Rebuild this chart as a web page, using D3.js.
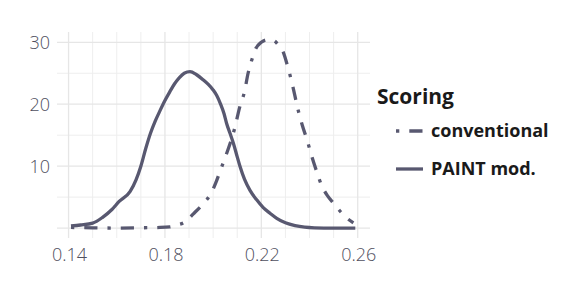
<!DOCTYPE html>
<html>
<head>
<meta charset="utf-8">
<script src="https://cdnjs.cloudflare.com/ajax/libs/d3/7.8.5/d3.min.js"></script>
<style>
  body { margin: 0; background: #fff; }
  text { font-family: "Open Sans", sans-serif; }
</style>
</head>
<body>
<svg id="chart" width="581" height="291"></svg>
<script>
// density of score under PAINT mod. scoring
var paintX = [0.141, 0.145, 0.150, 0.154, 0.158, 0.161, 0.1655, 0.168, 0.170, 0.172, 0.174, 0.176, 0.178, 0.180, 0.182, 0.184, 0.186, 0.188, 0.1904, 0.193, 0.196, 0.198, 0.200, 0.2015, 0.203, 0.2045, 0.2056, 0.207, 0.2084, 0.210, 0.2112, 0.213, 0.2153, 0.218, 0.2208, 0.2236, 0.2264, 0.230, 0.234, 0.238, 0.242, 0.250, 0.259];
var paintY = [0.35, 0.5, 0.8, 1.7, 3.0, 4.3, 5.9, 7.8, 10.0, 12.8, 15.3, 17.3, 19.0, 20.6, 22.0, 23.3, 24.3, 25.0, 25.25, 24.8, 23.9, 23.2, 22.3, 21.4, 20.1, 18.5, 16.9, 15.3, 13.7, 11.5, 9.9, 7.9, 6.1, 4.6, 3.3, 2.4, 1.57, 0.85, 0.4, 0.15, 0.05, 0.0, 0.0];

// density of score under conventional scoring
var convX = [0.141, 0.150, 0.160, 0.170, 0.178, 0.182, 0.185, 0.188, 0.1918, 0.196, 0.199, 0.201, 0.203, 0.205, 0.207, 0.209, 0.211, 0.213, 0.2145, 0.216, 0.2176, 0.220, 0.2225, 0.225, 0.227, 0.229, 0.231, 0.233, 0.235, 0.237, 0.239, 0.241, 0.243, 0.245, 0.2475, 0.250, 0.253, 0.2547, 0.2582];
var convY = [0.1, 0.05, 0.0, 0.05, 0.1, 0.2, 0.5, 0.9, 2.3, 4.0, 5.5, 7.2, 9.3, 11.4, 13.6, 16.2, 19.5, 22.0, 25.0, 27.1, 28.9, 30.0, 30.4, 30.3, 29.6, 28.5, 26.0, 23.0, 19.5, 16.6, 14.2, 11.5, 9.1, 6.9, 5.2, 4.0, 2.6, 1.9, 0.86];

var xMajor = [0.14, 0.18, 0.22, 0.26];
var xMinor = [0.15, 0.16, 0.17, 0.19, 0.20, 0.21, 0.23, 0.24, 0.25];
var yMajor = [0, 10, 20, 30];
var yMinor = [5, 15, 25];
var yLabels = [10, 20, 30];

var seriesNames = ["conventional", "PAINT mod."];
var legendTitle = "Scoring";

var lineColor = "#585870";
var dotdash = "3.3,10,13.2,10";

var svg = d3.select("#chart");

var x = d3.scaleLinear().domain([0.1352, 0.2651]).range([57, 370]);
var y = d3.scaleLinear().domain([-1.6, 31.66]).range([238, 32]);

var grid = svg.append("g");
grid.selectAll(".vmin").data(xMinor).enter().append("line")
  .attr("x1", d => x(d)).attr("x2", d => x(d))
  .attr("y1", y.range()[0]).attr("y2", y.range()[1])
  .attr("stroke", "#eeeeee").attr("stroke-width", 1);
grid.selectAll(".hmin").data(yMinor).enter().append("line")
  .attr("x1", x.range()[0]).attr("x2", x.range()[1])
  .attr("y1", d => y(d)).attr("y2", d => y(d))
  .attr("stroke", "#eeeeee").attr("stroke-width", 1);
grid.selectAll(".vmaj").data(xMajor).enter().append("line")
  .attr("x1", d => x(d)).attr("x2", d => x(d))
  .attr("y1", y.range()[0]).attr("y2", y.range()[1])
  .attr("stroke", "#e6e6e6").attr("stroke-width", 1.3);
grid.selectAll(".hmaj").data(yMajor).enter().append("line")
  .attr("x1", x.range()[0]).attr("x2", x.range()[1])
  .attr("y1", d => y(d)).attr("y2", d => y(d))
  .attr("stroke", "#e6e6e6").attr("stroke-width", 1.3);

// tick labels
svg.selectAll(".ylab").data(yLabels).enter().append("text")
  .attr("x", 50).attr("y", d => y(d) + 6.5)
  .attr("text-anchor", "end")
  .attr("font-size", 18).attr("font-weight", 300).attr("fill", "#4f4f5e")
  .text(d => d);
svg.selectAll(".xlab").data(xMajor).enter().append("text")
  .attr("x", d => x(d) + 1).attr("y", 261)
  .attr("text-anchor", "middle")
  .attr("font-size", 18).attr("font-weight", 300).attr("fill", "#4f4f5e")
  .text(d => d3.format(".2f")(d));

var line = d3.line()
  .x(d => x(d[0])).y(d => y(d[1]))
  .curve(d3.curveMonotoneX);

svg.append("path")
  .datum(paintX.map((v, i) => [v, paintY[i]]))
  .attr("d", line)
  .attr("fill", "none").attr("stroke", lineColor)
  .attr("stroke-width", 3.3);

svg.append("path")
  .datum(convX.map((v, i) => [v, convY[i]]))
  .attr("d", line)
  .attr("fill", "none").attr("stroke", lineColor)
  .attr("stroke-width", 3.3)
  .attr("stroke-dasharray", dotdash);

// legend
var lg = svg.append("g");
lg.append("text").attr("x", 377).attr("y", 104)
  .attr("font-size", 21).attr("font-weight", "bold").attr("fill", "#1a1a1a")
  .text(legendTitle);
var dashes = [dotdash, null];
seriesNames.forEach(function(name, i) {
  var ly = 131 + i * 38;
  lg.append("line")
    .attr("x1", 396).attr("x2", 423).attr("y1", ly).attr("y2", ly)
    .attr("stroke", lineColor).attr("stroke-width", 3.3)
    .attr("stroke-dasharray", dashes[i]);
  lg.append("text").attr("x", 431).attr("y", ly + 5.5)
    .attr("font-size", 18).attr("font-weight", "bold").attr("fill", "#1a1a1a")
    .text(name);
});
</script>
</body>
</html>
